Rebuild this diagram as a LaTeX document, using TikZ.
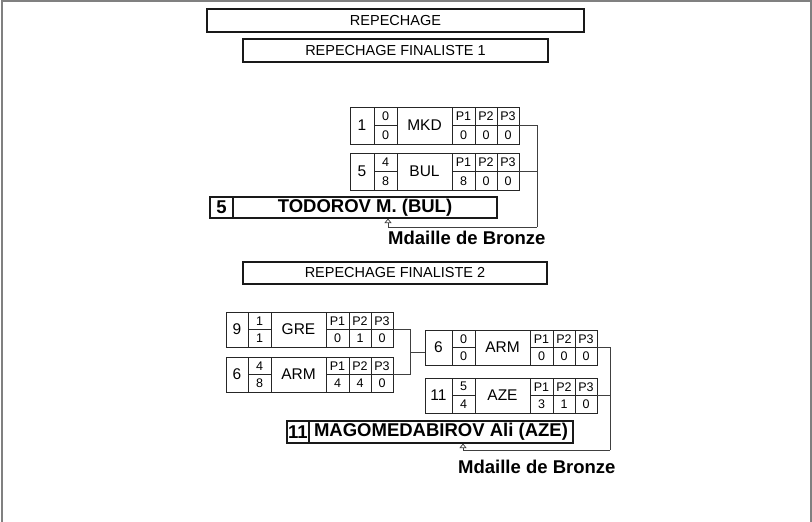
\documentclass[tikz,border=0pt]{standalone}
\usepackage{fontspec}
\setmainfont{Liberation Sans}
\usetikzlibrary{arrows.meta,calc}
\tikzset{
  hdr/.style={draw=black!90, line width=1.8pt, inner sep=0pt, outer sep=0pt, font=\fontsize{14.5}{15}\selectfont},
  rowbox/.style={draw=black!85, line width=0.9pt, inner sep=0pt, outer sep=0pt, rectangle},
  cell/.style={draw=black!85, line width=0.9pt},
  big/.style={inner sep=0pt, font=\fontsize{15.5}{16}\selectfont},
  small/.style={inner sep=0pt, font=\fontsize{12.5}{13}\selectfont},
  namebox/.style={draw=black!90, line width=1.3pt, inner sep=0pt, outer sep=0pt, rectangle},
  bname/.style={inner sep=0pt, font=\fontsize{18.5}{19}\selectfont\bfseries},
  conn/.style={draw=black!75, line width=0.8pt},
  tip/.style={-{Triangle[open, width=7pt, length=4.5pt, line width=0.7pt]}},
  frame/.style={draw=black!50, line width=2pt}
}
\def\rowh{37}
\newcommand\mrowP[3]{%
  \node[small] (\rn-q1) at (\sw+89.5,3*\rowh/4) {#1};
  \node[small] (\rn-q2) at (\sw+112,3*\rowh/4) {#2};
  \node[small] (\rn-q3) at (\sw+134,3*\rowh/4) {#3};}
% #1 name, #2 x, #3 y, #4 seed col width, #5 seed, #6 s1, #7 s2, #8 country, #9 {p1}{p2}{p3}
\newcommand\mrow[9]{%
  \def\rn{#1}\def\sw{#4}%
  \node[rowbox, minimum width={#4+145}, minimum height=\rowh, anchor=north west] (#1) at (#2,#3) {};
  \begin{scope}[shift={(#1.north west)}]
    \draw[cell] (#4,0) -- (#4,\rowh);
    \draw[cell] (#4+23,0) -- (#4+23,\rowh);
    \draw[cell] (#4+78,0) -- (#4+78,\rowh);
    \draw[cell] (#4+101,0) -- (#4+101,\rowh);
    \draw[cell] (#4+123,0) -- (#4+123,\rowh);
    \draw[cell] (#4,\rowh/2) -- (#4+23,\rowh/2);
    \draw[cell] (#4+78,\rowh/2) -- (#4+145,\rowh/2);
    \node[big] (#1-seed) at (#4/2,\rowh/2) {#5};
    \node[small] (#1-s1) at (#4+11.5,\rowh/4) {#6};
    \node[small] (#1-s2) at (#4+11.5,3*\rowh/4) {#7};
    \node[big] (#1-nat) at (#4+50.5,\rowh/2) {#8};
    \node[small] (#1-p1) at (#4+89.5,\rowh/4) {P1};
    \node[small] (#1-p2) at (#4+112,\rowh/4) {P2};
    \node[small] (#1-p3) at (#4+134,\rowh/4) {P3};
    \mrowP#9
  \end{scope}}
\begin{document}
\begin{tikzpicture}[x=1pt, y=-1pt]
\useasboundingbox (0,0) rectangle (812,522);
\draw[frame] (2,522) -- (2,1) -- (811,1) -- (811,522);
% headers
\node[hdr, minimum width=377, minimum height=23, anchor=north west] (h1) at (207,9) {REPECHAGE};
\node[hdr, minimum width=305, minimum height=23, anchor=north west] (h2) at (243,39) {REPECHAGE FINALISTE 1};
\node[hdr, minimum width=304, minimum height=22, anchor=north west] (h3) at (243,262) {REPECHAGE FINALISTE 2};
% match 1
\def\rowh{37}
\mrow{mkd}{350}{107}{24}{1}{0}{0}{MKD}{{0}{0}{0}}
\mrow{bul}{350}{153}{24}{5}{4}{8}{BUL}{{8}{0}{0}}
\node[namebox, minimum width=287, minimum height=21, anchor=north west] (n1) at (210,197) {};
\draw[namebox] (233,197) -- (233,218);
\node[bname] (n1s) at (221.5,207.5) {5};
\node[bname] (n1t) at (365,207.5) {TODOROV M. (BUL)};
\coordinate (j1) at (537,227);
\coordinate (a1) at (388,218.5);
\draw[conn] (mkd.east) -| (j1);
\draw[conn] (bul.east) -- (bul.east -| j1);
\draw[conn, tip] (j1) -| (a1);
\node[bname, anchor=base west] (b1) at (388,244) {Mdaille de Bronze};
% match 2
\def\rowh{35}
\mrow{gre}{226}{312}{22}{9}{1}{1}{GRE}{{0}{1}{0}}
\mrow{arm}{226}{357}{22}{6}{4}{8}{ARM}{{4}{4}{0}}
\mrow{armb}{425}{330}{27}{6}{0}{0}{ARM}{{0}{0}{0}}
\mrow{aze}{425}{378}{27}{11}{5}{4}{AZE}{{3}{1}{0}}
\coordinate (j2) at (410,352);
\draw[conn] (gre.east) -| (j2);
\draw[conn] (arm.east) -| (j2);
\draw[conn] (j2) -- (j2 -| armb.west);
\node[namebox, minimum width=286, minimum height=22, anchor=north west] (n2) at (287,421) {};
\draw[namebox] (309,421) -- (309,443);
\node[bname] (n2s) at (298,432) {11};
\node[bname] (n2t) at (441,432) {MAGOMEDABIROV Ali (AZE)};
\coordinate (j3) at (610,450);
\coordinate (a2) at (463,443.5);
\draw[conn] (armb.east) -| (j3);
\draw[conn] (aze.east) -- (aze.east -| j3);
\draw[conn, tip] (j3) -| (a2);
\node[bname, anchor=base west] (b2) at (458,473) {Mdaille de Bronze};
\end{tikzpicture}
\end{document}
